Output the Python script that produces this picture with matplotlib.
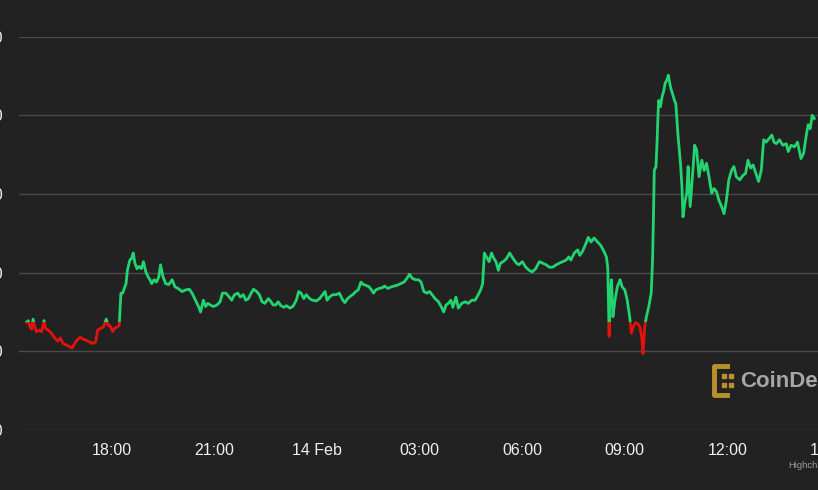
import matplotlib.pyplot as plt
from matplotlib.patches import Rectangle
from matplotlib.lines import Line2D

### Data (hours counted from 13 Feb 00:00, price in USD)
hours = [15.50, 15.55, 15.60, 15.65, 15.69, 15.74, 15.79, 15.87, 15.94, 16.01,
         16.06, 16.13, 16.23, 16.32, 16.42, 16.49, 16.57, 16.66, 16.76, 16.83,
         16.91, 16.97, 17.07, 17.17, 17.25, 17.34, 17.44, 17.52, 17.58, 17.66,
         17.75, 17.83, 17.89, 17.95, 18.02, 18.09, 18.16, 18.21, 18.26, 18.31,
         18.36, 18.41, 18.45, 18.52, 18.57, 18.62, 18.67, 18.73, 18.79, 18.86,
         18.92, 18.99, 19.05, 19.11, 19.16, 19.23, 19.30, 19.37, 19.42, 19.49,
         19.57, 19.66, 19.76, 19.84, 19.93, 20.05, 20.15, 20.26, 20.34, 20.44,
         20.53, 20.59, 20.67, 20.74, 20.80, 20.87, 20.97, 21.07, 21.16, 21.23,
         21.33, 21.43, 21.50, 21.58, 21.68, 21.75, 21.84, 21.91, 21.99, 22.07,
         22.14, 22.23, 22.31, 22.39, 22.47, 22.57, 22.65, 22.71, 22.79, 22.86,
         22.94, 23.03, 23.10, 23.20, 23.29, 23.39, 23.46, 23.53, 23.61, 23.68,
         23.78, 23.87, 23.97, 24.07, 24.16, 24.23, 24.29, 24.36, 24.45, 24.55,
         24.65, 24.75, 24.81, 24.89, 24.97, 25.04, 25.13, 25.20, 25.28, 25.35,
         25.42, 25.52, 25.59, 25.65, 25.71, 25.81, 25.91, 25.97, 26.07, 26.17,
         26.26, 26.34, 26.44, 26.54, 26.63, 26.70, 26.78, 26.87, 26.97, 27.04,
         27.12, 27.21, 27.29, 27.36, 27.45, 27.55, 27.65, 27.70, 27.77, 27.84,
         27.91, 27.97, 28.06, 28.13, 28.23, 28.33, 28.42, 28.52, 28.62, 28.71,
         28.78, 28.84, 28.89, 28.95, 29.03, 29.10, 29.17, 29.23, 29.30, 29.36,
         29.44, 29.54, 29.63, 29.73, 29.83, 29.90, 30.00, 30.10, 30.20, 30.29,
         30.39, 30.50, 30.60, 30.70, 30.79, 30.89, 30.99, 31.08, 31.18, 31.28,
         31.36, 31.42, 31.52, 31.62, 31.68, 31.76, 31.86, 31.93, 32.01, 32.10,
         32.20, 32.29, 32.39, 32.46, 32.50, 32.54, 32.56, 32.61, 32.65, 32.71,
         32.78, 32.86, 32.92, 33.00, 33.07, 33.14, 33.19, 33.24, 33.31, 33.38,
         33.44, 33.49, 33.53, 33.58, 33.63, 33.70, 33.77, 33.81, 33.84, 33.86,
         33.91, 33.94, 33.97, 33.99, 34.04, 34.09, 34.13, 34.18, 34.23, 34.27,
         34.34, 34.39, 34.45, 34.49, 34.55, 34.60, 34.63, 34.67, 34.70, 34.75,
         34.81, 34.85, 34.91, 34.98, 35.04, 35.10, 35.17, 35.25, 35.32, 35.39,
         35.46, 35.54, 35.61, 35.68, 35.75, 35.83, 35.90, 35.97, 36.04, 36.12,
         36.19, 36.26, 36.36, 36.46, 36.53, 36.60, 36.68, 36.75, 36.82, 36.91,
         36.99, 37.06, 37.13, 37.23, 37.30, 37.36, 37.43, 37.52, 37.62, 37.72,
         37.78, 37.86, 37.96, 38.05, 38.15, 38.23, 38.30, 38.36, 38.42, 38.48,
         38.54]

price = [21637, 21639, 21631, 21628, 21641, 21631, 21625, 21627, 21625, 21639,
         21629, 21627, 21623, 21617, 21613, 21617, 21610, 21608, 21606, 21604,
         21610, 21614, 21618, 21615, 21614, 21612, 21610, 21612, 21627, 21629,
         21631, 21641, 21633, 21632, 21625, 21630, 21631, 21633, 21674, 21674,
         21680, 21686, 21703, 21716, 21718, 21725, 21712, 21705, 21708, 21705,
         21714, 21701, 21695, 21691, 21686, 21691, 21688, 21695, 21710, 21695,
         21686, 21685, 21691, 21682, 21680, 21676, 21678, 21679, 21674, 21665,
         21657, 21650, 21665, 21657, 21661, 21659, 21657, 21659, 21663, 21674,
         21674, 21669, 21665, 21672, 21674, 21669, 21672, 21665, 21667, 21674,
         21679, 21676, 21672, 21663, 21661, 21667, 21663, 21659, 21659, 21663,
         21658, 21656, 21658, 21655, 21657, 21665, 21676, 21674, 21667, 21672,
         21667, 21665, 21664, 21667, 21672, 21676, 21665, 21669, 21672, 21672,
         21674, 21665, 21662, 21667, 21670, 21672, 21676, 21678, 21688, 21685,
         21684, 21682, 21678, 21674, 21678, 21680, 21681, 21683, 21680, 21682,
         21683, 21684, 21686, 21688, 21693, 21698, 21693, 21691, 21691, 21688,
         21676, 21674, 21676, 21672, 21667, 21663, 21655, 21650, 21659, 21661,
         21665, 21656, 21669, 21655, 21661, 21663, 21661, 21665, 21665, 21672,
         21678, 21686, 21725, 21720, 21714, 21725, 21718, 21714, 21703, 21712,
         21714, 21718, 21725, 21718, 21712, 21710, 21714, 21707, 21703, 21701,
         21705, 21714, 21712, 21710, 21707, 21707, 21710, 21712, 21714, 21716,
         21720, 21716, 21725, 21729, 21722, 21727, 21737, 21745, 21739, 21744,
         21739, 21735, 21727, 21720, 21706, 21619, 21674, 21691, 21644, 21665,
         21682, 21691, 21682, 21678, 21665, 21644, 21623, 21631, 21636, 21635,
         21631, 21619, 21597, 21631, 21644, 21657, 21674, 21716, 21780, 21830,
         21835, 21864, 21902, 21919, 21911, 21924, 21930, 21941, 21945, 21951,
         21935, 21928, 21919, 21915, 21877, 21852, 21837, 21809, 21771, 21788,
         21801, 21835, 21784, 21824, 21862, 21856, 21822, 21843, 21830, 21839,
         21822, 21801, 21807, 21803, 21792, 21784, 21775, 21792, 21818, 21830,
         21835, 21822, 21818, 21824, 21826, 21843, 21833, 21837, 21828, 21816,
         21830, 21869, 21866, 21871, 21875, 21866, 21864, 21869, 21862, 21864,
         21854, 21862, 21860, 21866, 21845, 21852, 21873, 21888, 21883, 21900,
         21896]

x_ticks = [18, 21, 24, 27, 30, 33, 36, 39]
x_labels = ['18:00', '21:00', '14 Feb', '03:00', '06:00', '09:00', '12:00', '15:00']
y_ticks = [21500, 21600, 21700, 21800, 21900, 22000]
y_labels = ['21,500', '21,600', '21,700', '21,800', '21,900', '22,000']

### Styling
bg = '#222222'
green = '#22d46f'
red = '#e3120b'
grid_col = '#4a4a4a'
plt.rcParams['font.family'] = ['Liberation Sans', 'DejaVu Sans']

W, H = 818, 490
fig = plt.figure(figsize=(W / 100, H / 100), dpi=100)
fig.patch.set_facecolor(bg)

# plot area runs past the right edge (the original picture is cropped)
ax = fig.add_axes([19.3 / W, (H - 430) / H, (830 - 19.3) / W, (430 - 36.7) / H])
ax.set_facecolor(bg)
x0, x1 = 15.288, 38.83
y0, y1 = 21500, 22000
ax.set_xlim(x0, x1)
ax.set_ylim(y0, y1)

# line is green above the opening price and red below it
threshold = price[0]
up = ax.plot(hours, price, color=green, lw=2.0, solid_joinstyle='round', zorder=3)[0]
down = ax.plot(hours, price, color=red, lw=2.0, solid_joinstyle='round', zorder=3)[0]
up.set_clip_path(Rectangle((x0, threshold), x1 - x0, y1 - threshold + 50, transform=ax.transData))
down.set_clip_path(Rectangle((x0, y0 - 50), x1 - x0, threshold - y0 + 50, transform=ax.transData))

ax.set_xticks(x_ticks)
ax.set_xticklabels(x_labels)
ax.set_yticks(y_ticks)
ax.set_yticklabels(y_labels)
ax.tick_params(axis='x', length=0, pad=9, labelsize=11.5, labelcolor='#f0f0f0')
ax.tick_params(axis='y', length=0, pad=12, labelsize=11.5, labelcolor='#f0f0f0')
ax.grid(axis='y', color=grid_col, lw=1)
ax.set_axisbelow(True)
for s in ax.spines.values():
    s.set_visible(False)

# CoinDesk watermark
gold = '#b8912c'
def fx(px):
    return px / W
def fy(py):
    return 1 - py / H
fig.add_artist(Line2D([fx(727), fx(714), fx(714), fx(727)],
                      [fy(366), fy(366), fy(395), fy(395)],
                      color=gold, lw=3.5, solid_joinstyle='round'))
for dx in (724, 731):
    for dy in (376, 385):
        fig.add_artist(Line2D([fx(dx)], [fy(dy)], marker='s', ms=2.2,
                              color=gold, lw=0))
fig.text(fx(740), fy(387), 'CoinDesk', color='#a6a6a6', fontsize=16,
         fontweight='bold', va='baseline', ha='left')

fig.text(fx(788), fy(468), 'Highcharts.com', color='#999999', fontsize=6.8,
         va='baseline', ha='left')

fig.savefig('out.png', dpi=100, facecolor=bg)
